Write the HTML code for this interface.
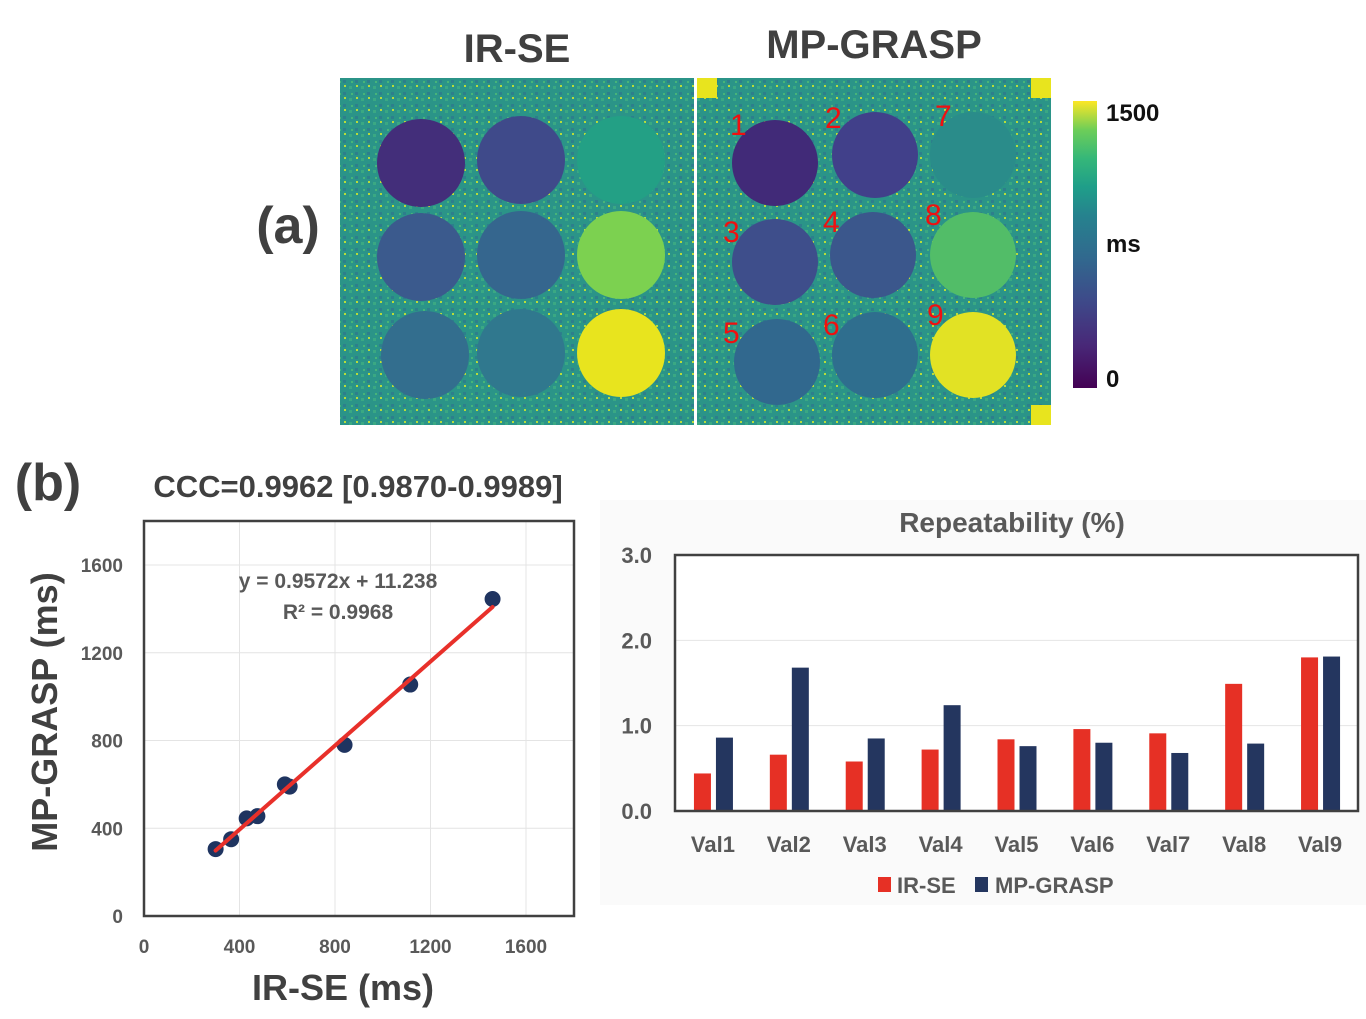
<!DOCTYPE html>
<html><head><meta charset="utf-8">
<style>
html,body{margin:0;padding:0;background:#fff;}
svg{display:block;font-family:"Liberation Sans",sans-serif;}
</style></head>
<body>
<svg id="fig" width="1366" height="1019" viewBox="0 0 1366 1019" xmlns="http://www.w3.org/2000/svg">
<defs>
<linearGradient id="viridis" x1="0" y1="1" x2="0" y2="0">
<stop offset="0" stop-color="#440154"/><stop offset="0.15" stop-color="#482878"/>
<stop offset="0.3" stop-color="#3e4989"/><stop offset="0.45" stop-color="#31688e"/>
<stop offset="0.6" stop-color="#26828e"/><stop offset="0.7" stop-color="#1f9e89"/>
<stop offset="0.8" stop-color="#35b779"/><stop offset="0.9" stop-color="#6ece58"/>
<stop offset="1" stop-color="#fde725"/>
</linearGradient>
<pattern id="noise" width="12" height="12" patternUnits="userSpaceOnUse">
<rect width="12" height="12" fill="#2b9488"/>
<rect x="1" y="2" width="3" height="3" fill="#3aa883"/><rect x="7" y="8" width="3" height="3" fill="#2d7f8c"/>
<rect x="8" y="1" width="2" height="2" fill="#b8dc3a"/><rect x="3" y="9" width="2" height="2" fill="#47b47a"/>
</pattern>
</defs>

<!-- Panel (a) -->
<text x="517" y="62" font-size="40" font-weight="bold" fill="#404040" text-anchor="middle">IR-SE</text>
<text x="874" y="58" font-size="40" font-weight="bold" fill="#404040" text-anchor="middle">MP-GRASP</text>
<text x="288" y="243" font-size="52" font-weight="bold" fill="#404040" text-anchor="middle">(a)</text>

<g>
<rect x="340" y="78" width="354" height="347" fill="url(#noise)"/>
<circle cx="421" cy="163" r="44" fill="#432e7a"/><circle cx="521" cy="160" r="44" fill="#3f4a8a"/><circle cx="621" cy="160" r="44" fill="#23a085"/>
<circle cx="421" cy="257" r="44" fill="#3b5a8d"/><circle cx="521" cy="255" r="44" fill="#35668e"/><circle cx="621" cy="255" r="44" fill="#7cd150"/>
<circle cx="425" cy="355" r="44" fill="#336e8e"/><circle cx="521" cy="353" r="44" fill="#30788e"/><circle cx="621" cy="353" r="44" fill="#e8e41e"/>
</g>
<rect x="694" y="78" width="3" height="347" fill="#fff"/>
<g>
<rect x="697" y="78" width="354" height="347" fill="url(#noise)"/>
<rect x="697" y="78" width="20" height="20" fill="#e8e41e"/><rect x="1031" y="78" width="20" height="20" fill="#e8e41e"/>
<rect x="1031" y="405" width="20" height="20" fill="#e8e41e"/>
<circle cx="775" cy="163" r="43" fill="#412a78"/><circle cx="875" cy="155" r="43" fill="#41408a"/><circle cx="973" cy="155" r="43" fill="#2a8c8a"/>
<circle cx="775" cy="262" r="43" fill="#3e4e8b"/><circle cx="873" cy="255" r="43" fill="#3b578c"/><circle cx="973" cy="255" r="43" fill="#52bd68"/>
<circle cx="777" cy="362" r="43" fill="#31688e"/><circle cx="875" cy="355" r="43" fill="#2f6e8e"/><circle cx="973" cy="355" r="43" fill="#e2e224"/>
<g font-size="30" fill="#f01010">
<text x="730" y="135">1</text><text x="825" y="128">2</text><text x="935" y="126">7</text>
<text x="723" y="242">3</text><text x="823" y="232">4</text><text x="925" y="225">8</text>
<text x="723" y="343">5</text><text x="823" y="335">6</text><text x="927" y="325">9</text>
</g>
</g>
<rect x="1073" y="101" width="24" height="287" fill="url(#viridis)"/>
<text x="1106" y="121" font-size="24" font-weight="bold" fill="#111">1500</text>
<text x="1106" y="252" font-size="24" font-weight="bold" fill="#111">ms</text>
<text x="1106" y="387" font-size="24" font-weight="bold" fill="#111">0</text>

<!-- Panel (b) -->
<text x="48" y="500" font-size="52" font-weight="bold" fill="#404040" text-anchor="middle">(b)</text>
<text x="358" y="497" font-size="31" font-weight="bold" fill="#404040" text-anchor="middle">CCC=0.9962 [0.9870-0.9989]</text>

<g id="scatter"></g>
<g id="bars"></g>
</svg>

<script>
// Scatter data
const irseValues = [300, 365, 430, 475, 590, 610, 840, 1115, 1460];
const graspValues = [305, 350, 445, 455, 600, 590, 780, 1055, 1445];
const scatterTicks = [0, 400, 800, 1200, 1600];
const fitSlope = 0.9572;
const fitIntercept = 11.238;

// Bar data
const categories = ["Val1","Val2","Val3","Val4","Val5","Val6","Val7","Val8","Val9"];
const irseRep = [0.44, 0.66, 0.58, 0.72, 0.84, 0.96, 0.91, 1.49, 1.80];
const graspRep = [0.86, 1.68, 0.85, 1.24, 0.76, 0.80, 0.68, 0.79, 1.81];
const barTicks = ["0.0","1.0","2.0","3.0"];

const NS = "http://www.w3.org/2000/svg";
function mk(parent, tag, attrs, text){
  const e = document.createElementNS(NS, tag);
  for (const k in attrs) e.setAttribute(k, attrs[k]);
  if (text !== undefined) e.textContent = text;
  parent.appendChild(e);
  return e;
}

// ---- Scatter ----
(function(){
  const g = document.getElementById('scatter');
  const L=144, R=574, T=521, B=916;
  const sx = v => L + v*(526-144)/1600;
  const sy = v => B - v*(916-565)/1600;
  mk(g,'rect',{x:L,y:T,width:R-L,height:B-T,fill:'#fff'});
  scatterTicks.forEach(t=>{
    if(t>0){
      const gl = mk(g,'line',{x1:sx(t),x2:sx(t),y1:T,y2:B,stroke:'#e4e4e4','stroke-width':1});
      
      
      const gh = mk(g,'line',{x1:L,x2:R,y1:sy(t),y2:sy(t),stroke:'#e4e4e4','stroke-width':1});
      
      
    }
    const xl = mk(g,'text',{x:sx(t),y:953,'font-size':19,'font-weight':'bold',fill:'#595959','text-anchor':'middle'},String(t));
    
    
    const yl = mk(g,'text',{x:123,y:sy(t)+7,'font-size':19,'font-weight':'bold',fill:'#595959','text-anchor':'end'},String(t));
    
    
  });
  const box = mk(g,'rect',{x:L,y:T,width:R-L,height:B-T,fill:'none',stroke:'#404040','stroke-width':2.5});
  
  
  irseValues.forEach((x,i)=>{
    const c = mk(g,'circle',{cx:sx(x),cy:sy(graspValues[i]),r:8,fill:'#1f3460'});
    
    
  });
  const x0 = Math.min(...irseValues), x1 = Math.max(...irseValues);
  const fl = mk(g,'line',{x1:sx(x0),y1:sy(fitSlope*x0+fitIntercept),x2:sx(x1),y2:sy(fitSlope*x1+fitIntercept),stroke:'#e8302a','stroke-width':4,'stroke-linecap':'round'});
  
  
  const eq = mk(g,'text',{x:338,y:588,'font-size':21,'font-weight':'bold',fill:'#595959','text-anchor':'middle'},'y = 0.9572x + 11.238');
  
  
  const r2 = mk(g,'text',{x:338,y:619,'font-size':21,'font-weight':'bold',fill:'#595959','text-anchor':'middle'},'R² = 0.9968');
  
  
  const xt = mk(g,'text',{x:343,y:1000,'font-size':36,'font-weight':'bold',fill:'#404040','text-anchor':'middle'},'IR-SE (ms)');
  
  
  const yt = mk(g,'text',{x:0,y:0,'font-size':36,'font-weight':'bold',fill:'#404040','text-anchor':'middle',transform:'translate(57,712) rotate(-90)'},'MP-GRASP (ms)');
  
  
})();

// ---- Bars ----
(function(){
  const g = document.getElementById('bars');
  mk(g,'rect',{x:600,y:500,width:766,height:405,fill:'#fafafa'});
  const L=675, R=1358, T=555, B=811;
  const sy = v => B - v*(B-T)/3;
  const band = (R-L)/categories.length;
  const tt = mk(g,'text',{x:1012,y:532,'font-size':28,'font-weight':'bold',fill:'#595959','text-anchor':'middle'},'Repeatability (%)');
  
  
  mk(g,'rect',{x:L,y:T,width:R-L,height:B-T,fill:'#fff'});
  barTicks.forEach(t=>{
    const v = parseFloat(t);
    if(v>0 && v<3){
      const gl = mk(g,'line',{x1:L,x2:R,y1:sy(v),y2:sy(v),stroke:'#e4e4e4','stroke-width':1});
      
      
    }
    const tl = mk(g,'text',{x:652,y:sy(v)+8,'font-size':22,'font-weight':'bold',fill:'#595959','text-anchor':'end'},t);
    
    
  });
  categories.forEach((c,i)=>{
    const cx = L + band*(i+0.5);
    const b1 = mk(g,'rect',{x:cx-19,y:sy(irseRep[i]),width:17,height:B-sy(irseRep[i]),fill:'#e63025'});
    
    
    const b2 = mk(g,'rect',{x:cx+3,y:sy(graspRep[i]),width:17,height:B-sy(graspRep[i]),fill:'#24365f'});
    
    
    const lb = mk(g,'text',{x:cx,y:852,'font-size':22,'font-weight':'bold',fill:'#595959','text-anchor':'middle'},c);
    
    
  });
  const fr = mk(g,'rect',{x:L,y:T,width:R-L,height:B-T,fill:'none',stroke:'#404040','stroke-width':2.5});
  
  
  const lg = mk(g,'g',{});
  
  
  mk(lg,'rect',{x:878,y:877,width:13,height:15,fill:'#e63025'});
  const l1 = mk(lg,'text',{x:897,y:893,'font-size':22,'font-weight':'bold',fill:'#595959'},'IR-SE');
  
  
  mk(lg,'rect',{x:975,y:877,width:13,height:15,fill:'#24365f'});
  const l2 = mk(lg,'text',{x:995,y:893,'font-size':22,'font-weight':'bold',fill:'#595959'},'MP-GRASP');
  
  
})();
</script>
</body></html>
